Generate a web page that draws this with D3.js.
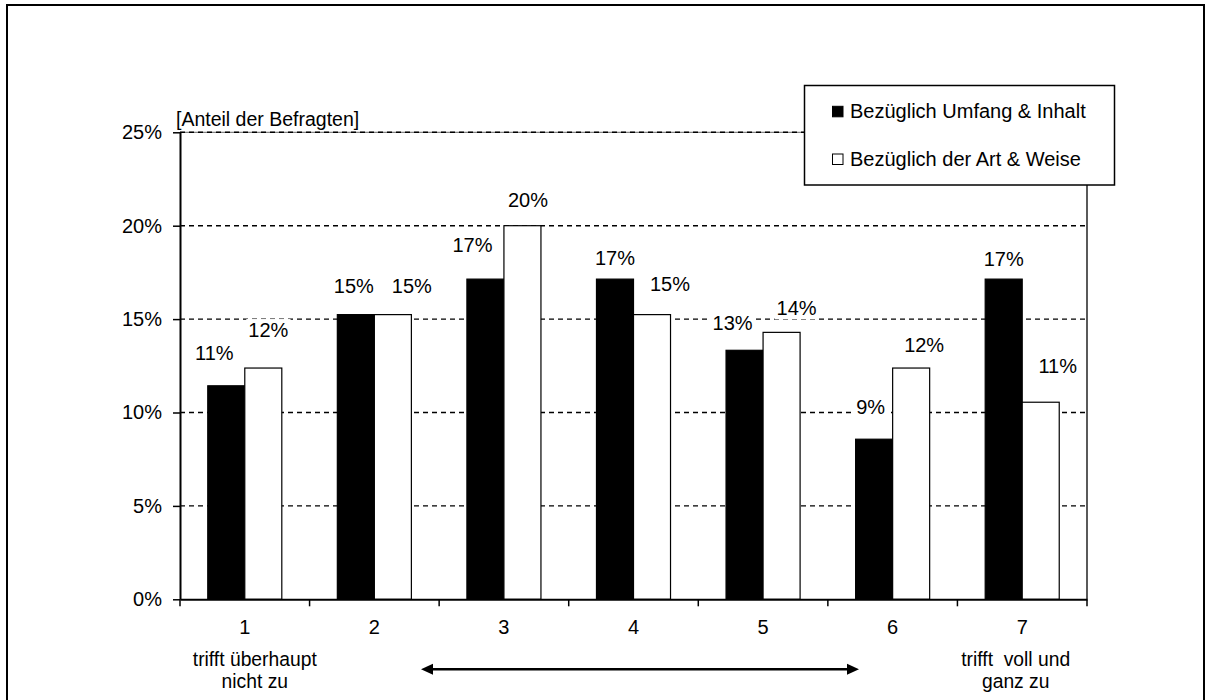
<!DOCTYPE html>
<html><head><meta charset="utf-8">
<script src="https://cdn.jsdelivr.net/npm/d3@7/dist/d3.min.js"></script>
<style>
body{margin:0;background:#fff}
text{font-family:"Liberation Sans",Arial,sans-serif;fill:#000}
</style>
</head><body><svg id="c" width="1210" height="700"></svg>
<script>
// ---- data ----
const categories = ["1","2","3","4","5","6","7"];
const seriesNames = ["Bezüglich Umfang & Inhalt","Bezüglich der Art & Weise"];
const umfangInhalt = [11.43,15.24,17.14,17.14,13.33,8.57,17.14];
const artWeise = [12.38,15.24,20.00,15.24,14.29,12.38,10.55];
const yTicks = [0,5,10,15,20,25];
const yTickLabels = ["0%","5%","10%","15%","20%","25%"];
const axisTitle = "[Anteil der Befragten]";
const leftEndLabel = ["trifft überhaupt","nicht zu"];
const rightEndLabel = ["trifft  voll und","ganz zu"];

// ---- layout (label nudges in px) ----
const labelDx = [[-12,-2,-13,0,-12,-3.5,0],[5,19,5.5,18,15,13,17]];
const labelLift = [[26,22,27,14,20,25,13],[31,22,19,24,17,16,29]];
const series = [umfangInhalt, artWeise];
const fills = ["#000","#fff"];

const svg = d3.select("#c");
const L = 180, R = 1087, T = 132.3, B = 599.3;
const fs = 20;

// outer frame (bottom edge lies below the visible area)
svg.append("rect").attr("x",7).attr("y",5).attr("width",1197).attr("height",700)
  .attr("fill","none").attr("stroke","#000").attr("stroke-width",2);

const x = d3.scaleBand().domain(categories).range([L,R]).paddingInner(0).paddingOuter(0);
const y = d3.scaleLinear().domain([0,25]).range([B,T]);
const bw = x.bandwidth()/3.5;
const off = bw*0.75;
const xs = d3.scaleBand().domain([0,1]).range([off, off+2*bw]);

// plot border (top, right)
svg.append("line").attr("x1",L).attr("x2",R).attr("y1",y(25)).attr("y2",y(25))
  .attr("stroke","#666").attr("stroke-width",1);
svg.append("line").attr("x1",R).attr("x2",R).attr("y1",y(25)).attr("y2",y(0))
  .attr("stroke","#000").attr("stroke-width",1.3);

// gridlines
svg.append("g").selectAll("line").data(yTicks.filter(d=>d>0)).join("line")
  .attr("x1",L).attr("x2",R).attr("y1",d=>y(d)).attr("y2",d=>y(d))
  .attr("stroke","#000").attr("stroke-width",1.4).attr("stroke-dasharray","5,4");

// bars
series.forEach((vals,si)=>{
  svg.append("g").selectAll("rect").data(vals).join("rect")
    .attr("x",(d,i)=>x(categories[i])+xs(si))
    .attr("y",d=>y(d))
    .attr("width",bw)
    .attr("height",d=>y(0)-y(d))
    .attr("fill",fills[si]).attr("stroke","#000").attr("stroke-width",1.2);
});

// data labels with white background
series.forEach((vals,si)=>{
  const g = svg.append("g");
  vals.forEach((v,i)=>{
    const cx = x(categories[i])+xs(si)+bw/2+labelDx[si][i];
    const by = y(v)-labelLift[si][i];
    const t = g.append("text").attr("x",cx).attr("y",by).attr("text-anchor","middle")
      .attr("font-size",fs).text(d3.format(".0f")(v)+"%");
    const bb = t.node().getBBox();
    g.insert("rect","text").attr("x",bb.x-2).attr("y",bb.y).attr("width",bb.width+4).attr("height",bb.height)
      .attr("fill","#fff");
  });
});

// y axis
const yAx = svg.append("g").attr("transform",`translate(${L},0)`)
  .call(d3.axisLeft(y).tickValues(yTicks).tickFormat((d,i)=>yTickLabels[i]).tickSize(7).tickPadding(11).tickSizeOuter(0));
yAx.select(".domain").attr("stroke-width",2);
yAx.selectAll(".tick line").attr("stroke-width",1.5);
yAx.selectAll("text").attr("font-size",fs).attr("font-family","Liberation Sans, Arial, sans-serif");

// x axis
const xAx = svg.append("g").attr("transform",`translate(0,${B})`)
  .call(d3.axisBottom(x).tickSize(0).tickPadding(20.5).tickSizeOuter(0));
xAx.select(".domain").attr("stroke-width",2);
xAx.selectAll("text").attr("font-size",fs).attr("font-family","Liberation Sans, Arial, sans-serif");
// boundary ticks
const bounds = categories.map(c=>x(c)).concat([R]);
svg.append("g").selectAll("line").data(bounds).join("line")
  .attr("x1",d=>d).attr("x2",d=>d).attr("y1",B).attr("y2",B+7)
  .attr("stroke","#000").attr("stroke-width",1.5);

// axis title
svg.append("text").attr("x",176).attr("y",126).attr("font-size",19.5).text(axisTitle);

// end labels
function endLabel(lines, cx){
  lines.forEach((s,i)=>{
    svg.append("text").attr("x",cx).attr("y",665.5+i*22.5).attr("text-anchor","middle")
      .attr("font-size",19.3).style("white-space","pre").text(s);
  });
}
endLabel(leftEndLabel, x(categories[0])+x.bandwidth()/2+10);
endLabel(rightEndLabel, x(categories[6])+x.bandwidth()/2-6.5);

// double arrow
const ay = 669.3, ax1 = 421, ax2 = 859;
svg.append("line").attr("x1",ax1+8).attr("x2",ax2-8).attr("y1",ay).attr("y2",ay)
  .attr("stroke","#000").attr("stroke-width",2.5);
svg.append("path").attr("d",`M${ax1},${ay}L${ax1+12},${ay-5.5}L${ax1+12},${ay+5.5}Z`).attr("fill","#000");
svg.append("path").attr("d",`M${ax2},${ay}L${ax2-12},${ay-5.5}L${ax2-12},${ay+5.5}Z`).attr("fill","#000");

// legend
const lg = svg.append("g");
lg.append("rect").attr("x",804.5).attr("y",85.5).attr("width",310).attr("height",99.5)
  .attr("fill","#fff").attr("stroke","#000").attr("stroke-width",1.5);
seriesNames.forEach((n,i)=>{
  const yy = 118.3 + i*47.7;
  lg.append("rect").attr("x",832.5).attr("y",yy-12).attr("width",10.5).attr("height",10.5)
    .attr("fill",fills[i]).attr("stroke","#000").attr("stroke-width",1);
  lg.append("text").attr("x",850).attr("y",yy).attr("font-size",fs).text(n);
});
</script>
</body></html>
